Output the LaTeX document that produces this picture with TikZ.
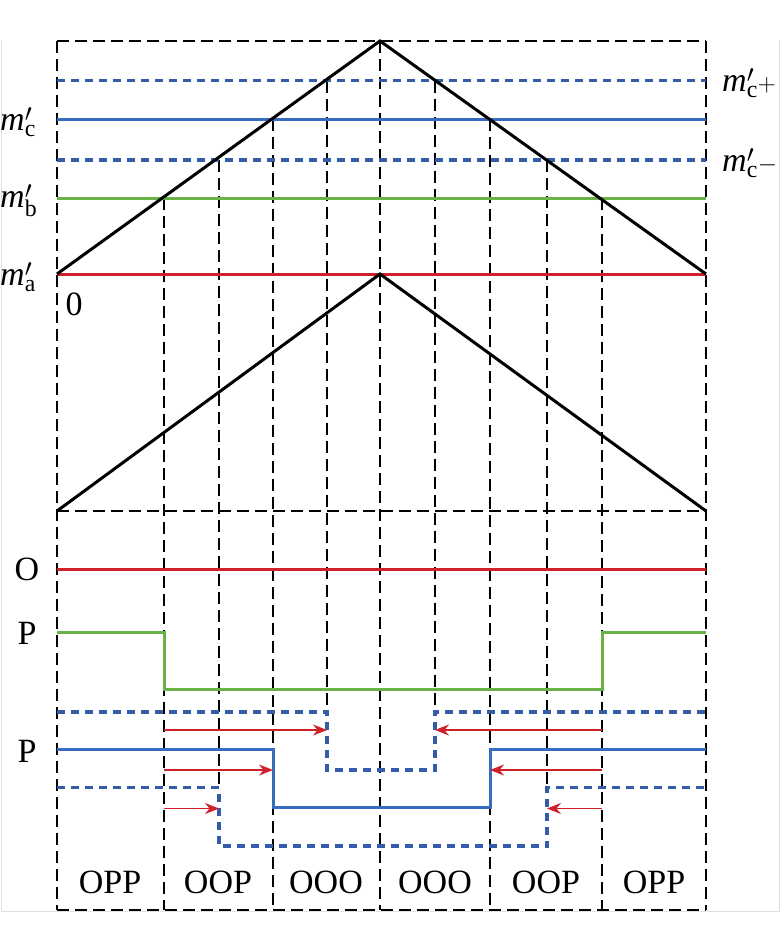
\documentclass[tikz,border=0pt]{standalone}
\usepackage{fontspec}
\setmainfont{Liberation Serif}
\usetikzlibrary{arrows.meta}
\definecolor{cred}{RGB}{208,32,42}
\definecolor{cgreen}{RGB}{104,178,72}
\definecolor{cblue}{RGB}{58,108,190}
\definecolor{cdblue}{RGB}{52,92,168}
\tikzset{
  grid/.style={black, line width=1.5pt, dash pattern=on 12pt off 6pt},
  tri/.style={black, line width=3pt, line join=miter},
  redl/.style={cred, line width=3pt},
  greenl/.style={cgreen, line width=3pt},
  bluel/.style={cblue, line width=3pt},
  bluedash/.style={cdblue, line width=3.5pt, dash pattern=on 8pt off 6pt},
  arr/.style={cred, line width=1.5pt, -{Stealth[length=14pt,width=11pt]}},
  lbl/.style={font=\fontsize{34}{40}\selectfont, inner sep=0pt},
  frame/.style={black!12, line width=0.8pt}
}
\begin{document}
\begin{tikzpicture}[x=1pt,y=-1pt]
\useasboundingbox (0,0) rectangle (781,951);
\draw[frame] (1,40) -- (1,911) -- (779,911) -- (779,40);
% outer dashed frame
\draw[grid] (57,41) -- (706,41);
\draw[grid] (57,910) -- (706,910);
\draw[grid] (57,511) -- (706,511);
\draw[grid] (57,41) -- (57,910);
\draw[grid] (706,41) -- (706,910);
% inner vertical dashed lines
\draw[grid] (164,198) -- (164,910);
\draw[grid] (219,160) -- (219,787);
\draw[grid] (273,119) -- (273,910);
\draw[grid] (327,80.7) -- (327,712);
\draw[grid] (380,41) -- (380,910);
\draw[grid] (435,80.7) -- (435,712);
\draw[grid] (490,119) -- (490,910);
\draw[grid] (547,160) -- (547,787);
\draw[grid] (602,198) -- (602,910);
% horizontal reference lines
\draw[bluedash] (57,80.7) -- (706,80.7);
\draw[bluel] (57,119.3) -- (706,119.3);
\draw[bluedash] (57,160) -- (706,160);
\draw[greenl] (57,198.3) -- (706,198.3);
\draw[redl] (57,274) -- (706,274);
% triangles
\draw[tri] (57,274) -- (380,41) -- (706,274);
\draw[tri] (57,511) -- (380,274) -- (706,511);
% switching states
\draw[redl] (57,569) -- (706,569);
\draw[greenl] (57,632) -- (164,632) -- (164,689) -- (602,689) -- (602,632) -- (706,632);
\draw[bluedash] (57,712) -- (327,712) -- (327,770) -- (435,770) -- (435,712) -- (706,712);
\draw[bluel] (57,749) -- (273,749) -- (273,807.5) -- (490,807.5) -- (490,749) -- (706,749);
\draw[bluedash] (57,787.5) -- (219,787.5) -- (219,846) -- (547,846) -- (547,787.5) -- (706,787.5);
% arrows
\coordinate (a1s) at (164,730); \coordinate (a1e) at (327,730);
\coordinate (a2s) at (164,770); \coordinate (a2e) at (273,770);
\coordinate (a3s) at (164,808.5); \coordinate (a3e) at (219,808.5);
\coordinate (b1s) at (602,730); \coordinate (b1e) at (435,730);
\coordinate (b2s) at (602,770); \coordinate (b2e) at (490,770);
\coordinate (b3s) at (602,808.5); \coordinate (b3e) at (547,808.5);
\draw[arr] (a1s) -- (a1e);
\draw[arr] (a2s) -- (a2e);
\draw[arr] (a3s) -- (a3e);
\draw[arr] (b1s) -- (b1e);
\draw[arr] (b2s) -- (b2e);
\draw[arr] (b3s) -- (b3e);
% left labels
\node[lbl, anchor=west] (mc) at (0,122) {$\mathit{m}'_{\mathrm{c}}$};
\node[lbl, anchor=west] (mb) at (0,201) {$\mathit{m}'_{\mathrm{b}}$};
\node[lbl, anchor=west] (ma) at (0,277) {$\mathit{m}'_{\mathrm{a}}$};
\node[lbl] (zero) at (74,304) {0};
\node[lbl, anchor=west] (mcp) at (722,83) {$\mathit{m}'_{\mathrm{c}}{+}$};
\node[lbl, anchor=west] (mcm) at (722,163) {$\mathit{m}'_{\mathrm{c}}{-}$};
\node[lbl] (O) at (27,569) {O};
\node[lbl] (P1) at (27,633) {P};
\node[lbl] (P2) at (27,751) {P};
% bottom labels
\node[lbl] (s1) at (110,882) {OPP};
\node[lbl] (s2) at (218,882) {OOP};
\node[lbl] (s3) at (326,882) {OOO};
\node[lbl] (s4) at (435,882) {OOO};
\node[lbl] (s5) at (546,882) {OOP};
\node[lbl] (s6) at (654,882) {OPP};
\end{tikzpicture}
\end{document}
